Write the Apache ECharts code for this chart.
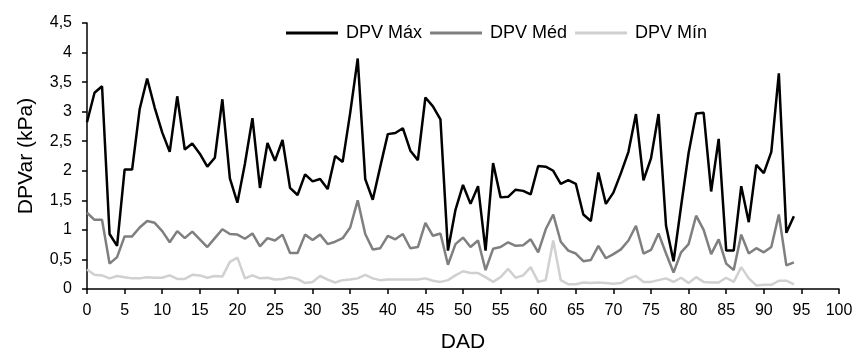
<!DOCTYPE html>
<html><head><meta charset="utf-8">
<script src="https://cdn.jsdelivr.net/npm/echarts@6/dist/echarts.min.js"></script>
<style>html,body{margin:0;padding:0;background:#fff}#c{width:858px;height:358px}</style>
</head><body><div id="c"></div>
<script>
const seriesNames = ['DPV Máx', 'DPV Méd', 'DPV Mín'];
const xTicks = [0,5,10,15,20,25,30,35,40,45,50,55,60,65,70,75,80,85,90,95,100];
const yTicks = ['0','0,5','1','1,5','2','2,5','3','3,5','4','4,5'];
const dpvMax = [2.82,3.32,3.43,0.93,0.73,2.02,2.02,3.04,3.56,3.07,2.65,2.32,3.26,2.36,2.46,2.29,2.07,2.22,3.21,1.87,
  1.46,2.12,2.89,1.71,2.47,2.17,2.52,1.71,1.59,1.94,1.82,1.86,1.69,2.25,2.15,2.98,3.9,1.86,1.51,2.07,
  2.62,2.64,2.72,2.34,2.18,3.24,3.09,2.87,0.65,1.34,1.76,1.44,1.74,0.65,2.13,1.55,1.56,1.68,1.66,1.6,
  2.08,2.07,2.0,1.78,1.84,1.78,1.26,1.15,1.97,1.44,1.63,1.96,2.32,2.96,1.84,2.21,2.96,1.07,0.47,1.4,
  2.3,2.97,2.98,1.65,2.54,0.65,0.65,1.74,1.13,2.1,1.96,2.32,3.65,0.95,1.23];
const dpvMed = [1.29,1.17,1.17,0.43,0.54,0.89,0.89,1.04,1.15,1.12,0.98,0.79,0.98,0.86,0.97,0.84,0.71,0.86,1.01,0.93,
  0.92,0.85,0.94,0.72,0.86,0.82,0.92,0.61,0.61,0.92,0.83,0.92,0.76,0.8,0.86,1.04,1.5,0.93,0.67,0.69,
  0.9,0.84,0.93,0.69,0.71,1.12,0.9,0.94,0.41,0.76,0.87,0.71,0.82,0.32,0.68,0.71,0.79,0.73,0.74,0.84,
  0.62,1.01,1.26,0.8,0.65,0.6,0.47,0.49,0.73,0.52,0.59,0.67,0.82,1.07,0.6,0.66,0.94,0.6,0.28,0.62,
  0.76,1.24,1.0,0.59,0.84,0.43,0.32,0.92,0.6,0.69,0.62,0.71,1.26,0.4,0.45];
const dpvMin = [0.33,0.24,0.23,0.18,0.22,0.2,0.18,0.18,0.2,0.19,0.19,0.23,0.17,0.17,0.24,0.23,0.19,0.22,0.21,0.46,
  0.53,0.18,0.23,0.18,0.19,0.16,0.17,0.2,0.17,0.1,0.12,0.22,0.16,0.11,0.15,0.16,0.18,0.24,0.18,0.15,
  0.16,0.16,0.16,0.16,0.16,0.18,0.14,0.12,0.15,0.23,0.3,0.27,0.27,0.2,0.12,0.2,0.34,0.19,0.23,0.37,
  0.12,0.15,0.82,0.15,0.08,0.08,0.11,0.1,0.11,0.1,0.09,0.1,0.18,0.22,0.12,0.12,0.15,0.18,0.12,0.19,
  0.1,0.2,0.12,0.11,0.11,0.19,0.12,0.37,0.18,0.06,0.07,0.07,0.14,0.14,0.08];
const colors = ['#000000', '#7f7f7f', '#d0d0d0'];

const toPairs = arr => arr.map((v, i) => [i, v]);
const FONT = '"Liberation Sans", Arial, sans-serif';
const chart = echarts.init(document.getElementById('c'));
chart.setOption({
  animation: false,
  color: colors,
  grid: { left: 87, right: 19, top: 23, bottom: 63, containLabel: false },
  legend: {
    data: seriesNames, left: 281, top: 19, itemWidth: 52, itemHeight: 3, itemGap: 8, icon: 'rect',
    textStyle: { fontFamily: FONT, fontSize: 18, color: '#000', padding: [0, 0, 0, 3] }
  },
  xAxis: {
    type: 'value', min: 0, max: 100, interval: 5,
    name: 'DAD', nameLocation: 'middle', nameGap: 43,
    nameTextStyle: { fontFamily: FONT, fontSize: 21, color: '#000' },
    axisLine: { lineStyle: { color: '#000', width: 1.5 } },
    axisTick: { show: true, length: 5, lineStyle: { color: '#000', width: 1.5 } },
    axisLabel: { fontFamily: FONT, fontSize: 16, color: '#000', margin: 14,
      formatter: v => xTicks.includes(v) ? String(v) : '' },
    splitLine: { show: false }
  },
  yAxis: {
    type: 'value', min: 0, max: 4.5, interval: 0.5,
    name: 'DPVar (kPa)', nameLocation: 'middle', nameGap: 50,
    nameTextStyle: { fontFamily: FONT, fontSize: 21, color: '#000' },
    axisLine: { show: true, lineStyle: { color: '#000', width: 1.5 } },
    axisTick: { show: true, length: 5, lineStyle: { color: '#000', width: 1.5 } },
    axisLabel: { fontFamily: FONT, fontSize: 16, color: '#000', margin: 15,
      formatter: v => yTicks[Math.round(v * 2)] },
    splitLine: { show: false }
  },
  series: [
    { name: seriesNames[0], type: 'line', data: toPairs(dpvMax), showSymbol: false, lineStyle: { width: 2.5, color: colors[0] } },
    { name: seriesNames[1], type: 'line', data: toPairs(dpvMed), showSymbol: false, lineStyle: { width: 2.5, color: colors[1] } },
    { name: seriesNames[2], type: 'line', data: toPairs(dpvMin), showSymbol: false, lineStyle: { width: 2.5, color: colors[2] } }
  ]
});
</script></body></html>
